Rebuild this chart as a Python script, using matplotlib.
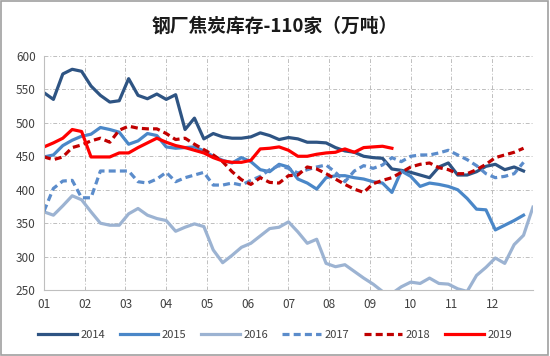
import numpy as np
import matplotlib.pyplot as plt

plt.rcParams['font.family'] = ['Noto Sans CJK SC', 'DejaVu Sans']

# weekly coke inventory at 110 steel mills (10k tons)
y2014 = [545, 535, 573, 580, 577, 555, 541, 531, 533, 566, 541, 536, 543, 535,
         542, 490, 507, 476, 484, 479, 477, 477, 479, 485, 481, 475, 478, 476,
         471, 471, 470, 463, 458, 456, 450, 448, 447, 431, 429, 426, 422, 418,
         434, 440, 422, 422, 427, 435, 438, 430, 434, 428]
y2015 = [449, 452, 466, 474, 480, 483, 493, 490, 486, 468, 473, 484, 481, 464,
         462, 463, 464, 458, 450, 444, 440, 448, 442, 430, 427, 438, 434, 416,
         410, 401, 418, 421, 421, 418, 416, 412, 410, 396, 428, 420, 405, 410,
         408, 405, 400, 387, 371, 370, 340, 347, 354, 362]
y2016 = [367, 362, 376, 391, 385, 367, 350, 347, 347, 364, 372, 362, 357, 354,
         338, 344, 349, 345, 310, 291, 302, 314, 320, 331, 342, 344, 352, 337,
         320, 326, 290, 285, 288, 278, 268, 259, 248, 245, 255, 262, 260, 268,
         260, 259, 252, 248, 272, 284, 298, 290, 318, 332, 374]
y2017 = [368, 402, 413, 414, 388, 388, 428, 428, 428, 428, 412, 410, 416, 426,
         412, 418, 422, 426, 407, 407, 410, 407, 414, 420, 430, 436, 432, 425,
         430, 434, 437, 426, 412, 428, 436, 432, 437, 448, 442, 450, 452, 452,
         455, 459, 452, 445, 436, 424, 418, 420, 424, 441]
y2018 = [449, 445, 449, 463, 467, 473, 477, 471, 489, 495, 492, 491, 491, 484,
         475, 477, 468, 460, 452, 442, 427, 415, 408, 418, 411, 410, 421, 422,
         434, 431, 424, 416, 408, 401, 396, 409, 414, 418, 426, 434, 438, 440,
         433, 430, 424, 424, 430, 438, 448, 452, 456, 462]
y2019 = [464, 470, 477, 490, 487, 449, 449, 449, 455, 455, 463, 470, 477, 471,
         466, 463, 459, 455, 448, 443, 441, 441, 444, 461, 462, 464, 459, 450,
         450, 453, 455, 456, 461, 456, 463, 464, 465, 462]

months = ['01', '02', '03', '04', '05', '06', '07', '08', '09', '10', '11', '12']

series = [
    ('2014', y2014, '#2E5483', '-'),
    ('2015', y2015, '#4A87C8', '-'),
    ('2016', y2016, '#9CB3D2', '-'),
    ('2017', y2017, '#5B8CCB', (0, (2.2, 1.3))),
    ('2018', y2018, '#C00000', (0, (2.2, 1.3))),
    ('2019', y2019, '#FF0000', '-'),
]

fig = plt.figure(figsize=(5.5, 3.56), dpi=100)
ax = fig.add_axes([0.08, 0.185, 0.889, 0.658])

for label, vals, color, ls in series:
    x = np.arange(len(vals)) * 12 / 52
    ax.plot(x, vals, color=color, lw=2.3, ls=ls, label=label)

ax.set_xlim(0, 12)
ax.set_ylim(250, 600)
ax.set_xticks(range(12))
ax.set_xticklabels(months)
ax.set_yticks(range(250, 601, 50))
ax.tick_params(length=0, labelsize=8.5, colors='#404040', pad=6)
ax.grid(True, color='#BFBFBF', lw=0.7, ls=(0, (4, 2, 1, 2)))
ax.set_axisbelow(True)
for s in ['top', 'right']:
    ax.spines[s].set_visible(False)
for s in ['left', 'bottom']:
    ax.spines[s].set_color('#BFBFBF')

fig.text(0.5, 0.925, '钢厂焦炭库存-110家（万吨）', ha='center', va='center',
         fontsize=13.5, fontweight='bold', color='#1a1a1a')

fig.legend(loc='center', bbox_to_anchor=(0.5, 0.06), ncol=6, frameon=False,
           fontsize=8, handlelength=3.5, columnspacing=1.3, handletextpad=0.3,
           labelcolor='#404040')

fig.patches.append(plt.Rectangle((0.002, 0.003), 0.995, 0.993, transform=fig.transFigure,
                                 fill=False, edgecolor='#A0A0A0', lw=1.2))

fig.savefig('out.png', dpi=100)
